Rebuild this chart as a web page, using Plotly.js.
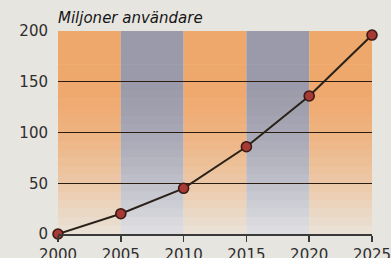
<!DOCTYPE html>
<html>
<head>
<meta charset="utf-8">
<script src="https://cdn.plot.ly/plotly-3.0.1.min.js"></script>
<style>html,body{margin:0;padding:0;background:#e7e5e0;}#chart{width:391px;height:258px;}</style>
</head>
<body>
<div id="chart"></div>
<script>
// Data
const years = [2000, 2005, 2010, 2015, 2020, 2025];
const users = [0, 20, 45, 86, 136, 196];
const yTicks = [0, 50, 100, 150, 200];
const titleText = "Miljoner användare";

// Band colours (top colour, bottom colour) alternating orange / grey
const bandTop = [[239,168,108],[154,154,170]];
const bandBottom = [[234,224,212],[220,220,225]];

function mix(a, b, t) {
  return 'rgb(' + a.map((v, i) => Math.round(v + (b[i] - v) * t)).join(',') + ')';
}

const shapes = [];
const nSlices = 24;
for (let b = 0; b < years.length - 1; b++) {
  const top = bandTop[b % 2], bot = bandBottom[b % 2];
  for (let s = 0; s < nSlices; s++) {
    const y0 = 200 * s / nSlices, y1 = 200 * (s + 1) / nSlices;
    const f = (y0 + y1) / 2 / 200;       // 0 bottom -> 1 top
    let t = Math.min(1, Math.max(0, (0.75 - f) / 0.72));
    t = Math.pow(t, 1.5);
    shapes.push({
      type: 'rect', layer: 'below', xref: 'x', yref: 'y',
      x0: years[b], x1: years[b + 1], y0: y0, y1: y1 + 0.5,
      fillcolor: mix(top, bot, t), line: {width: 0}
    });
  }
}

const trace = {
  x: years, y: users, type: 'scatter', mode: 'lines+markers',
  line: {color: '#2a2218', width: 2},
  marker: {size: 10, color: '#a83a36', line: {color: '#3a1a14', width: 1.6}},
  cliponaxis: false, hoverinfo: 'skip'
};

const layout = {
  width: 391, height: 258,
  margin: {l: 58, r: 19, t: 31, b: 24},
  paper_bgcolor: '#e7e5e0', plot_bgcolor: 'rgba(0,0,0,0)',
  font: {family: 'DejaVu Sans', size: 15, color: '#2e2e2e'},
  showlegend: false,
  title: {
    text: titleText, xref: 'paper', x: 0, xanchor: 'left',
    yref: 'container', y: 0.93, yanchor: 'middle',
    font: {family: 'DejaVu Sans', size: 15, style: 'italic', color: '#151515'}
  },
  xaxis: {
    range: [2000, 2025], tickvals: years, ticktext: years.map(String),
    showgrid: false, zeroline: false,
    showline: true, linecolor: '#3a3a3a', linewidth: 1.5,
    ticks: 'outside', ticklen: 6, tickwidth: 1.5, tickcolor: '#3a3a3a',
    ticklabeloverflow: 'allow',
    tickfont: {family: 'DejaVu Sans', size: 15, color: '#2e2e2e'},
    fixedrange: true
  },
  yaxis: {
    range: [0, 200], tickvals: yTicks, ticktext: yTicks.map(String),
    showgrid: true, gridcolor: '#2b1c12', gridwidth: 1.4,
    zeroline: false, showline: false, ticks: '',
    ticklabelstandoff: 9,
    tickfont: {family: 'DejaVu Sans', size: 15, color: '#2e2e2e'},
    fixedrange: true
  },
  shapes: shapes
};

Plotly.newPlot('chart', [trace], layout, {displayModeBar: false, staticPlot: true});
</script>
</body>
</html>
